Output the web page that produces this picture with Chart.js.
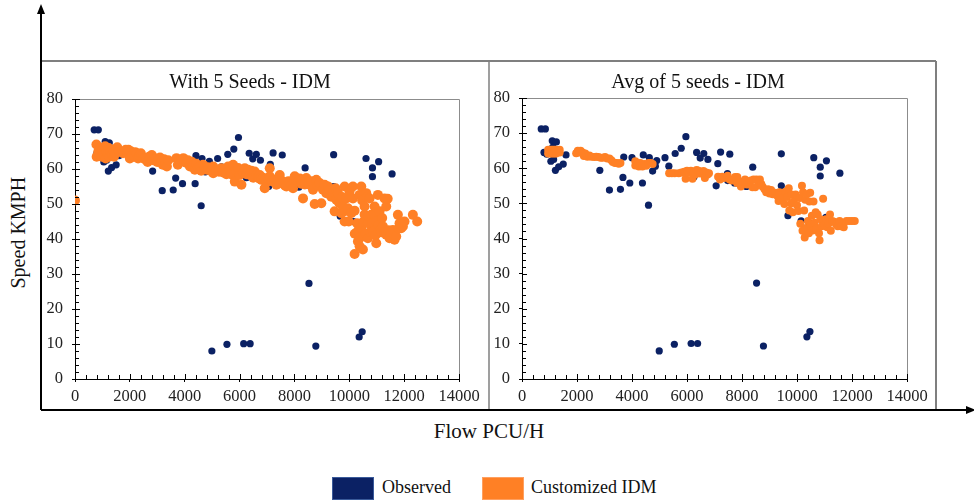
<!DOCTYPE html>
<html>
<head>
<meta charset="utf-8">
<script src="https://cdn.jsdelivr.net/npm/chart.js@4"></script>
<style>
  body { margin: 0; background: #fff; font-family: "Liberation Serif", serif; }
  #page { position: relative; width: 974px; height: 502px; overflow: hidden; }
  canvas { position: absolute; }
  .lbl { position: absolute; color: #111; white-space: nowrap; }
  .swatch { position: absolute; width: 40px; height: 21px; }
</style>
</head>
<body>
<div id="page">
  <svg width="974" height="502" style="position:absolute;left:0;top:0">
    <line x1="41" y1="61" x2="936" y2="61" stroke="#7f7f7f" stroke-width="2"/>
    <line x1="936" y1="61" x2="936" y2="410" stroke="#7f7f7f" stroke-width="2"/>
    <line x1="489" y1="61" x2="489" y2="410" stroke="#7f7f7f" stroke-width="1.5"/>
    <line x1="41" y1="12" x2="41" y2="410" stroke="#000" stroke-width="2"/>
    <polygon points="41,4 37,14 45,14" fill="#000"/>
    <line x1="41" y1="410" x2="968" y2="410" stroke="#000" stroke-width="2"/>
    <polygon points="976,410 966,406 966,414" fill="#000"/>
  </svg>
  <canvas id="seeds" width="448" height="349" style="left:41px;top:61px"></canvas>
  <canvas id="avg" width="447" height="349" style="left:489px;top:61px"></canvas>
  <div class="lbl" style="left:-37px;top:222px;width:110px;text-align:center;font-size:20px;transform:rotate(-90deg)">Speed KMPH</div>
  <div class="lbl" style="left:389px;top:419px;width:200px;text-align:center;font-size:21px">Flow PCU/H</div>
  <div class="swatch" style="left:332px;top:477px;background:#0b2164;border:1px solid #3a5a9a"></div>
  <div class="lbl" style="left:382px;top:477px;font-size:18px">Observed</div>
  <div class="swatch" style="left:482px;top:477px;background:#ff8025;border:1px solid #ffa060"></div>
  <div class="lbl" style="left:531px;top:477px;font-size:18px">Customized IDM</div>
</div>
<script>
// [flow PCU/H, speed KMPH]
const observed = [
  [700,71.2],[850,71.2],[800,64.5],[900,64],[1100,67.8],[1250,67.5],[1050,62],[1150,62.5],
  [1120,66],[1215,59.4],[1335,60.4],[1500,61.2],[1600,63.8],[2830,59.4],[3180,53.8],[3580,54],
  [3670,57.4],[3700,63.2],[3920,55.8],[4000,63],[4380,55.8],[4410,63.8],[4600,49.5],[4630,63],
  [4750,59.2],[4900,62.2],[4850,60.6],[5200,63],[5340,60.6],[5570,64.2],[5790,65.7],[5960,69],
  [6250,57.5],[6350,64.5],[6480,62.9],[6610,64.2],[6760,62.5],[7060,55],[7120,61.3],[7222,64.6],
  [7470,58.5],[7480,56.5],[7556,64],[7730,55.8],[8160,54.8],[8390,60.3],[9430,64.1],[9430,55],
  [9670,46.5],[10150,45],[10450,44.4],[10610,63],[10845,60.3],[10845,57.8],[11070,62.1],[11560,58.6],
  [11050,46],[4990,8],[5540,9.9],[6150,10.1],[6385,10.1],[8530,27.3],[8780,9.4],[10360,12],[10470,13.5]
];

const seedsIdm = [
  [0,51],[780,67],[790,63.5],[850,65],[900,64],[920,66],[980,63.5],[1000,65.5],[1050,64],[1100,66.5],
  [1120,63],[1150,65],[1200,64],[1230,66],[1250,63.5],[1300,65],[1350,64],[1400,65.5],[1420,63.5],
  [1480,64.5],[1540,66.2],[1600,65],[1750,64.5],[1850,65.5],[1900,64.5],[1950,65.5],[2000,63],
  [2050,65],[2100,64],[2150,63.5],[2200,64.8],[2250,64.5],[2300,63],[2350,63.8],[2400,64.5],
  [2450,63.5],[2500,63],[2550,63.2],[2600,62.5],[2650,62],[2700,63.5],[2750,63],[2800,64],
  [2850,62.5],[2900,62.7],[2950,63],[3000,62],[3050,62.5],[3100,63.3],[3150,62],[3200,61.2],
  [3250,62.8],[3300,61.5],[3350,60.7],[3400,62.5],[3700,63.1],[3750,61.2],[3800,62],[3880,62.6],
  [3950,63.1],[4000,62],[4070,61.7],[4120,62.5],[4190,60.7],[4250,62.1],[4300,61],[4370,59.8],
  [4420,61.5],[4480,60.5],[4550,60.7],[4600,59.5],[4670,61.2],[4720,60],[4800,59.8],[4850,60.5],
  [4950,59.5],[5040,58.8],[5040,60.7],[5150,59.8],[5250,59.2],[5340,60.2],[5400,59],[5460,59.8],
  [5520,58.5],[5580,60.7],[5650,59.5],[5700,58.5],[5765,61.2],[5765,58.3],[5825,56.4],[5880,59.5],
  [5950,60.3],[6007,58.3],[6068,55.5],[6120,59],[6190,60.2],[6250,58.5],[6311,59.8],[6372,58.3],
  [6430,59.5],[6500,57.5],[6553,59.3],[6620,58.3],[6680,57.8],[6735,58.3],[6735,57.2],[6800,56.9],
  [6860,57.5],[6917,56.9],[6917,54.5],[6980,56.2],[7050,57.3],[7100,60.2],[7100,57.9],[7180,56.5],
  [7282,56.9],[7342,55.5],[7400,57.2],[7464,58.3],[7520,56],[7585,56.4],[7650,55.3],[7706,55],
  [7780,56.5],[7827,56],[7900,55.5],[7949,54.5],[8010,57.9],[8070,56.8],[8131,56.4],[8200,57.3],
  [8250,55.8],[8313,51.6],[8313,56.9],[8380,55.6],[8434,57.4],[8500,56],[8556,55.5],[8620,56.5],
  [8677,54.1],[8738,50],[8798,56.9],[8850,55.2],[8920,56],[8980,50.2],[9041,54.1],[9102,55.5],
  [9162,53.1],[9230,55],[9284,54.1],[9344,52.1],[9405,53.6],[9466,47.9],[9500,54.5],[9527,51.2],
  [9587,53.1],[9620,50.5],[9648,50.2],[9709,47.4],[9740,52],[9770,49.3],[9830,55],[9830,45],
  [9860,48],[9891,51.6],[9951,48.8],[9980,45],[10012,53.6],[10073,47.4],[10133,55],[10133,51.6],
  [10194,48.1],[10194,35.7],[10200,41.5],[10255,41.7],[10280,44.5],[10315,39.3],[10330,42.5],
  [10376,52.6],[10376,37.9],[10400,40.5],[10437,55],[10437,43.1],[10470,51],[10497,40.7],[10497,37],
  [10520,45],[10558,49.3],[10558,47],[10600,41.5],[10619,53.1],[10650,52],[10679,44.5],[10679,40.2],
  [10700,46.5],[10740,51.6],[10760,42],[10800,46.9],[10830,44.5],[10861,42.2],[10900,47],[10922,49.3],
  [10950,41],[10983,45],[10983,38.8],[11043,52.6],[11070,44],[11104,47.9],[11130,42.5],[11165,41.9],
  [11200,46],[11225,43.6],[11286,51.6],[11300,42],[11347,49.3],[11347,41.2],[11400,51.5],[11430,42.5],
  [11468,40.2],[11520,42],[11590,42.6],[11650,39.8],[11711,40.7],[11772,46.9],[11800,43],[11832,44.5],
  [11893,43.1],[11954,43.6],[12015,45],[12318,46.9],[12476,45]
];

const avgIdm = [
  [950,65.3],[950,64.2],[1030,65.3],[1030,64.2],[1100,65.3],[1100,64.2],[1170,65.3],[1170,64.2],
  [1240,65.3],[1240,64.2],[1310,65],[1370,64.5],[1370,65.3],[1970,64.3],[2030,65],[2080,64.5],
  [2130,65],[2200,64.5],[2250,63.5],[2300,64.2],[2380,63.3],[2450,63.6],[2520,63.3],[2620,63.2],
  [2700,63.3],[2780,63.2],[2860,63],[2940,63],[3020,63.2],[3100,62.8],[3180,62.8],[3250,62.3],
  [3300,61.8],[3380,61.5],[3450,61.5],[3520,61.3],[3580,61.5],[4120,62],[4120,60.8],[4200,61.5],
  [4250,60.5],[4300,61.5],[4380,60.5],[4450,61.2],[4520,60.7],[4600,61.5],[4680,61.5],[4750,61.2],
  [5350,58.6],[5450,58.6],[5550,58.6],[5700,58.6],[5800,58.8],[5900,59],[5950,57],[6000,59.3],
  [6070,58.8],[6140,59.3],[6200,57],[6250,59],[6300,58.2],[6350,59.5],[6420,59.3],[6480,58.5],
  [6600,59.2],[6650,57.2],[6700,58.8],[6750,58.2],[6800,58.6],[7130,57.6],[7200,56.8],[7280,57.6],
  [7350,57.2],[7480,57.9],[7550,56.8],[7630,56.5],[7750,57.5],[7830,57.5],[7820,55.8],[7950,55.8],
  [7960,54.8],[8050,56.2],[8110,56.8],[8180,55.4],[8250,55.9],[8320,56.5],[8380,54.6],[8420,56.8],
  [8480,54.6],[8530,56.8],[8600,56],[8650,56.8],[8700,55.5],[8750,54.7],[8820,54],[8880,53.2],
  [8950,54],[9000,52.8],[9060,53.8],[9120,52.6],[9200,53],[9280,52.2],[9330,50.7],[9360,53.2],
  [9430,52.4],[9500,51.7],[9540,49.8],[9580,53.3],[9640,51.8],[9700,54.3],[9720,48],[9780,50],
  [9800,52.5],[9850,47.5],[9880,50.5],[9950,52.5],[10000,49.5],[10050,47.8],[10100,51.5],[10120,44.2],
  [10180,55],[10200,42.2],[10220,53.2],[10260,48],[10280,40.3],[10300,51],[10320,43],[10360,52.6],
  [10400,45],[10430,41.5],[10450,50.5],[10480,53],[10500,43.8],[10540,46.5],[10570,42.3],[10600,50.5],
  [10640,44.5],[10680,47.5],[10700,42.8],[10750,46.8],[10800,41.5],[10820,39.5],[10850,45.5],
  [10900,43.5],[10950,51.3],[11000,44],[11050,45.5],[11100,43.2],[11150,44.3],[11200,46.8],
  [11230,42.2],[11280,45],[11350,44.8],[11420,44],[11480,43.5],[11550,45],[11600,43.5],[11700,43.2],
  [11800,45],[11900,45],[12000,45],[12100,45]
];

const xTicks = [0, 2000, 4000, 6000, 8000, 10000, 12000, 14000];
const yTicks = [0, 10, 20, 30, 40, 50, 60, 70, 80];

const NAVY = '#0b2164';
const ORANGE = '#ff8025';
const SERIF = "'Liberation Serif', 'DejaVu Serif', serif";
const tickFont = { family: SERIF, size: 16.5 };

// box border + inward minor ticks, like the excel plot
const frameTicks = {
  id: 'frameTicks',
  afterDraw(chart) {
    const { ctx, chartArea: a, scales } = chart;
    ctx.save();
    ctx.strokeStyle = '#8c8c8c';
    ctx.lineWidth = 1;
    ctx.beginPath();
    ctx.moveTo(a.left, a.top + 0.5); ctx.lineTo(a.right + 0.5, a.top + 0.5); ctx.lineTo(a.right + 0.5, a.bottom);
    ctx.stroke();
    ctx.strokeStyle = '#000';
    ctx.beginPath();
    for (let v = 0; v <= 80; v += 2) {
      const y = Math.round(scales.y.getPixelForValue(v)) + 0.5;
      ctx.moveTo(a.left, y); ctx.lineTo(a.left + (v % 10 === 0 ? 5 : 4), y);
    }
    for (let v = 0; v <= 14000; v += 400) {
      const x = Math.round(scales.x.getPixelForValue(v)) + 0.5;
      ctx.moveTo(x, a.bottom); ctx.lineTo(x, a.bottom - (v % 2000 === 0 ? 5 : 4));
    }
    ctx.stroke();
    ctx.restore();
  }
};

function makeChart(id, title, sim, simRadius, yWidth, rightPad, titleTop, titleBottom) {
  return new Chart(document.getElementById(id), {
    type: 'scatter',
    data: {
      datasets: [
        { label: 'Customized IDM', data: sim.map(p => ({ x: p[0], y: p[1] })), order: 0,
          backgroundColor: ORANGE, borderWidth: 0, pointRadius: simRadius },
        { label: 'Observed', data: observed.map(p => ({ x: p[0], y: p[1] })), order: 1,
          backgroundColor: NAVY, borderWidth: 0, pointRadius: 3.6 }
      ]
    },
    options: {
      responsive: false,
      animation: false,
      layout: { padding: { left: 0, right: rightPad, top: 0, bottom: 0 } },
      plugins: {
        legend: { display: false },
        tooltip: { enabled: false },
        title: { display: true, text: title, color: '#111',
          font: { family: SERIF, size: 20, weight: 'normal' },
          padding: { top: titleTop, bottom: titleBottom } }
      },
      scales: {
        x: {
          type: 'linear', min: 0, max: 14000,
          afterBuildTicks: s => { s.ticks = xTicks.map(v => ({ value: v })); },
          afterFit: s => { s.height = 31; },
          grid: { drawOnChartArea: false, drawTicks: true, tickLength: 3, color: '#000' },
          border: { color: '#000', width: 1 },
          ticks: { color: '#222', font: tickFont, padding: 5, maxRotation: 0, callback: v => String(v) }
        },
        y: {
          type: 'linear', min: 0, max: 80,
          afterBuildTicks: s => { s.ticks = yTicks.map(v => ({ value: v })); },
          afterFit: s => { s.width = yWidth; },
          grid: { drawOnChartArea: false, drawTicks: true, tickLength: 3, color: '#000' },
          border: { color: '#000', width: 1 },
          ticks: { color: '#222', font: tickFont, padding: 9, callback: v => String(v) }
        }
      }
    },
    plugins: [frameTicks]
  });
}

makeChart('seeds', 'With 5 Seeds - IDM', seedsIdm, 5, 34, 30, 10, 4);
makeChart('avg', 'Avg of 5 seeds - IDM', avgIdm, 4, 33, 29, 10, 3);
</script>
</body>
</html>
